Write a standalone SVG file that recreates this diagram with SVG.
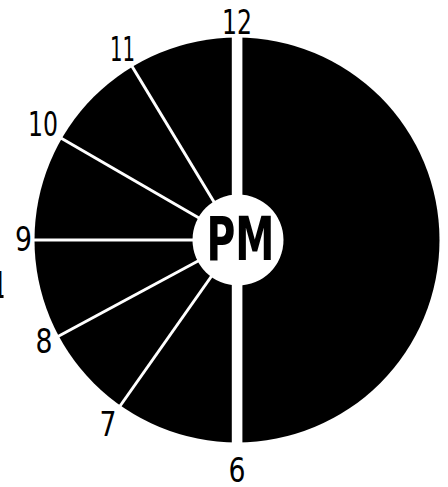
<svg xmlns="http://www.w3.org/2000/svg" width="448" height="487" viewBox="0 0 448 487">
<style>
.lbl{font-family:"Liberation Sans Narrow","DejaVu Sans Condensed","Liberation Sans",sans-serif;font-size:34px;fill:#000;text-anchor:middle}
.div{stroke:#fff;stroke-width:3;fill:none}
.pm{font-family:"Liberation Sans Narrow","DejaVu Sans Condensed","Liberation Sans",sans-serif;font-size:61px;font-weight:bold;fill:#000;text-anchor:middle}
</style>
<defs>
<clipPath id="edge"><rect x="0" y="265" width="3.5" height="40"/></clipPath>
</defs>
<rect width="448" height="487" fill="#fff"/>
<g id="dial">
<circle cx="237" cy="240" r="202.5" fill="#000"/>
</g>
<g id="connectors">
<line class="div" x1="237" y1="240" x2="130" y2="63"/>
<line class="div" x1="237" y1="240" x2="60" y2="137.5"/>
<line class="div" x1="237" y1="240" x2="33" y2="240"/>
<line class="div" x1="237" y1="240" x2="57" y2="337"/>
<line class="div" x1="237" y1="240" x2="119" y2="407.5"/>
<rect x="231.8" y="30" width="10.6" height="420" fill="#fff"/>
</g>
<g id="center">
<circle cx="238" cy="240" r="45.5" fill="#fff"/>
<text class="pm" x="240.5" y="260" textLength="68" lengthAdjust="spacingAndGlyphs">PM</text>
</g>
<g id="labels">
<text class="lbl" x="237" y="34" textLength="30" lengthAdjust="spacingAndGlyphs">12</text>
<text class="lbl" x="122.5" y="61" textLength="25" lengthAdjust="spacingAndGlyphs">11</text>
<text class="lbl" x="43" y="136" textLength="30" lengthAdjust="spacingAndGlyphs">10</text>
<text class="lbl" x="23.5" y="251" textLength="17" lengthAdjust="spacingAndGlyphs">9</text>
<text class="lbl" x="44" y="353" textLength="17" lengthAdjust="spacingAndGlyphs">8</text>
<text class="lbl" x="108" y="436" textLength="17" lengthAdjust="spacingAndGlyphs">7</text>
<text class="lbl" x="237" y="482" textLength="17" lengthAdjust="spacingAndGlyphs">6</text>
<text class="lbl" x="-1" y="298" style="font-size:38px" clip-path="url(#edge)">1</text>
</g>
</svg>
